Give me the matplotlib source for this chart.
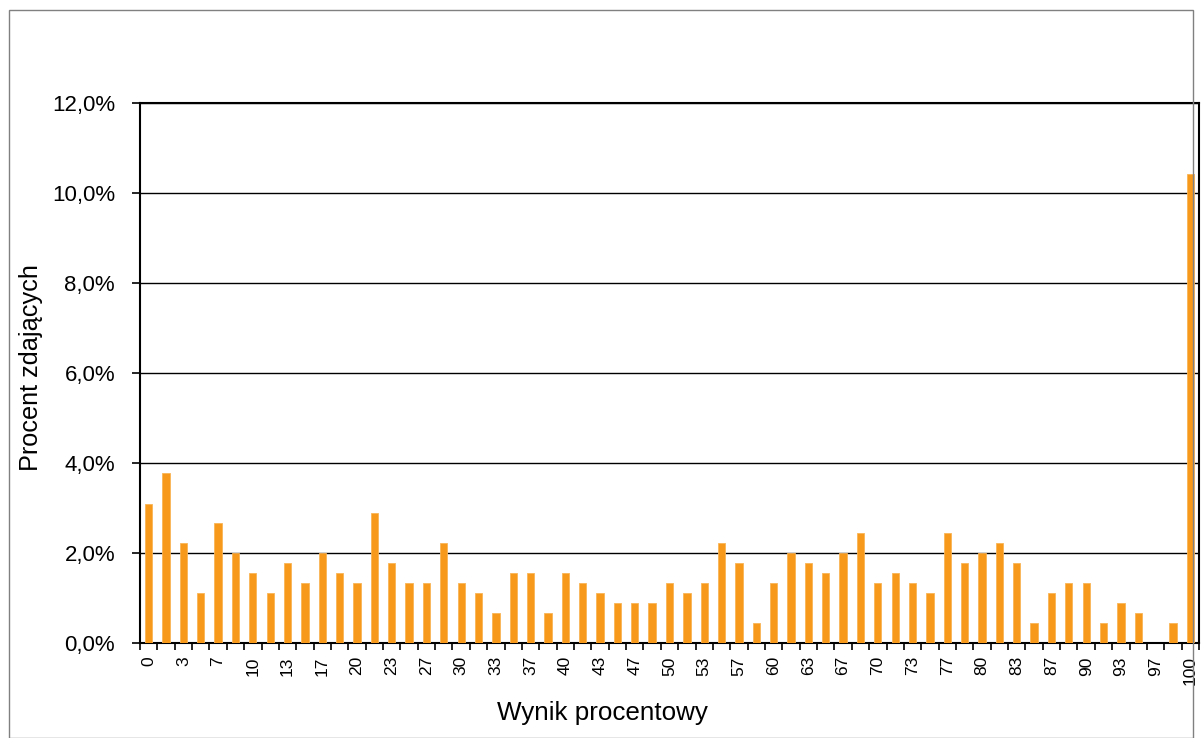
import matplotlib
matplotlib.use("Agg")
import matplotlib.pyplot as plt
from matplotlib.patches import Rectangle
from matplotlib.ticker import FuncFormatter, FixedLocator

plt.rcParams['font.family'] = ['Liberation Sans', 'DejaVu Sans']

# categories: percentage score (61 categories, 0..60 points)
categories = ["0", "2", "3", "5", "7", "8", "10", "12", "13", "15", "17", "18", "20", "22",
              "23", "25", "27", "28", "30", "32", "33", "35", "37", "38", "40", "42", "43",
              "45", "47", "48", "50", "52", "53", "55", "57", "58", "60", "62", "63", "65",
              "67", "68", "70", "72", "73", "75", "77", "78", "80", "82", "83", "85", "87",
              "88", "90", "92", "93", "95", "97", "98", "100"]

# percent of examinees
values = [3.10, 3.77, 2.22, 1.11, 2.66, 2.00, 1.55, 1.11, 1.77, 1.33,
          2.00, 1.55, 1.33, 2.88, 1.77, 1.33, 1.33, 2.22, 1.33, 1.11,
          0.67, 1.55, 1.55, 0.67, 1.55, 1.33, 1.11, 0.89, 0.89, 0.89,
          1.33, 1.11, 1.33, 2.22, 1.77, 0.44, 1.33, 2.00, 1.77, 1.55,
          2.00, 2.44, 1.33, 1.55, 1.33, 1.11, 2.44, 1.77, 2.00, 2.22,
          1.77, 0.44, 1.11, 1.33, 1.33, 0.44, 0.89, 0.67, 0.00, 0.44,
          10.42]

y_ticks = [0, 2, 4, 6, 8, 10, 12]

W, H = 1202, 738
fig = plt.figure(figsize=(W / 100, H / 100), dpi=100)
fig.patch.set_facecolor('white')

# outer chart border
fig.patches.append(Rectangle((9 / W, 0.5 / H), (W - 9.5) / W - 9 / W, (H - 10) / H - 0.5 / H,
                             transform=fig.transFigure, fill=False,
                             edgecolor='#808080', linewidth=1.0))

ax = fig.add_axes([140 / W, 1 - 643 / H, (1199 - 140) / W, (643 - 103) / H])

x = list(range(len(categories)))
ax.bar(x, values, width=0.42, color='#F7991A', edgecolor='#F9B456', linewidth=0.6, zorder=3)

ax.set_xlim(-0.5, len(categories) - 0.5)
ax.set_ylim(0, 12)

ax.set_yticks(y_ticks)
ax.yaxis.set_major_formatter(FuncFormatter(lambda v, p: f"{v:.1f}".replace('.', ',') + '%'))
ax.grid(axis='y', color='black', linewidth=1.0, zorder=1)
ax.tick_params(axis='y', direction='out', length=6, width=1.2, labelsize=16, pad=12)

# x tick labels (every other category) and boundary tick marks
ax.xaxis.set_major_locator(FixedLocator(x[::2]))
ax.set_xticklabels(categories[::2], rotation=90, fontsize=12.5)
ax.tick_params(axis='x', which='major', length=0, pad=9.5)
ax.xaxis.set_minor_locator(FixedLocator([i - 0.5 for i in range(len(categories) + 1)]))
ax.tick_params(axis='x', which='minor', direction='out', length=5, width=1.2)

for s in ax.spines.values():
    s.set_color('black')
    s.set_linewidth(1.5)

fig.text(602 / W, 1 - 720 / H, 'Wynik procentowy', fontsize=18.7,
         ha='center', va='baseline')
fig.text(31 / W, 1 - 368 / H, 'Procent zdających', fontsize=18.2,
         ha='center', va='center', rotation=90)

fig.savefig('out.png', dpi=100)
